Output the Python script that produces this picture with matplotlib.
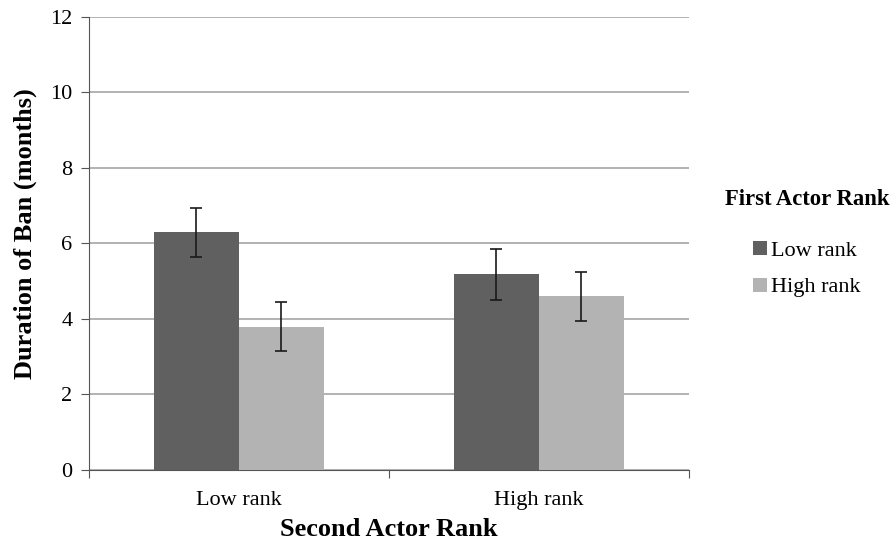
import numpy as np
import matplotlib
matplotlib.use('Agg')
import matplotlib.pyplot as plt

# values
categories = ['Low rank', 'High rank']
series_names = ['Low rank', 'High rank']
low_first = [6.3, 5.18]
high_first = [3.8, 4.6]
low_err = [0.65, 0.67]
high_err = [0.66, 0.65]

plt.rcParams['font.family'] = ['Liberation Serif', 'DejaVu Serif']

fig = plt.figure(figsize=(8.91, 5.45), dpi=100)
ax = fig.add_axes([0.0999, 0.1376, 0.673, 0.8314])

x = np.arange(len(categories))
w = 0.284
ax.bar(x - w / 2, low_first, w, color='#606060', label=series_names[0], zorder=3)
ax.bar(x + w / 2, high_first, w, color='#b3b3b3', label=series_names[1], zorder=3)
ax.errorbar(x - w / 2, low_first, yerr=low_err, fmt='none', ecolor='#1a1a1a',
            elinewidth=1.2, capsize=4, capthick=1.2, zorder=4)
ax.errorbar(x + w / 2, high_first, yerr=high_err, fmt='none', ecolor='#1a1a1a',
            elinewidth=1.2, capsize=4, capthick=1.2, zorder=4)

ax.set_xlim(-0.5, 1.5)
ax.set_ylim(0, 12)
ax.set_yticks(range(0, 13, 2))
ax.yaxis.grid(True, color='#a6a6a6', linewidth=1.2, zorder=0)
ax.set_axisbelow(True)

# x ticks sit at the category borders, labels in between
ax.set_xticks([-0.5, 0.5, 1.5])
ax.set_xticklabels([])
ax.set_xticks(x, minor=True)
ax.set_xticklabels(categories, minor=True, fontsize=16)
ax.tick_params(axis='x', which='minor', length=0, pad=15)
ax.tick_params(axis='x', which='major', length=6, direction='out', color='#555555')
ax.tick_params(axis='y', length=6, direction='out', labelsize=16, color='#555555', pad=6)

for s in ['top', 'right']:
    ax.spines[s].set_visible(False)
ax.spines['left'].set_color('#555555')
ax.spines['bottom'].set_color('#555555')

ax.set_ylabel('Duration of Ban (months)', fontsize=19, fontweight='bold')
ax.yaxis.set_label_coords(-0.087, 0.521)
ax.set_xlabel('Second Actor Rank', fontsize=19, fontweight='bold', labelpad=6)

leg = ax.legend(loc='center left', bbox_to_anchor=(1.027, 0.5), frameon=False,
                title='First Actor Rank', fontsize=16, handlelength=0.6,
                handleheight=0.6, handletextpad=0.2, labelspacing=0.75)
leg.get_title().set_fontweight('bold')
leg.get_title().set_fontsize(16.3)
leg._legend_box.sep = 22

fig.savefig('out.png', dpi=100)
